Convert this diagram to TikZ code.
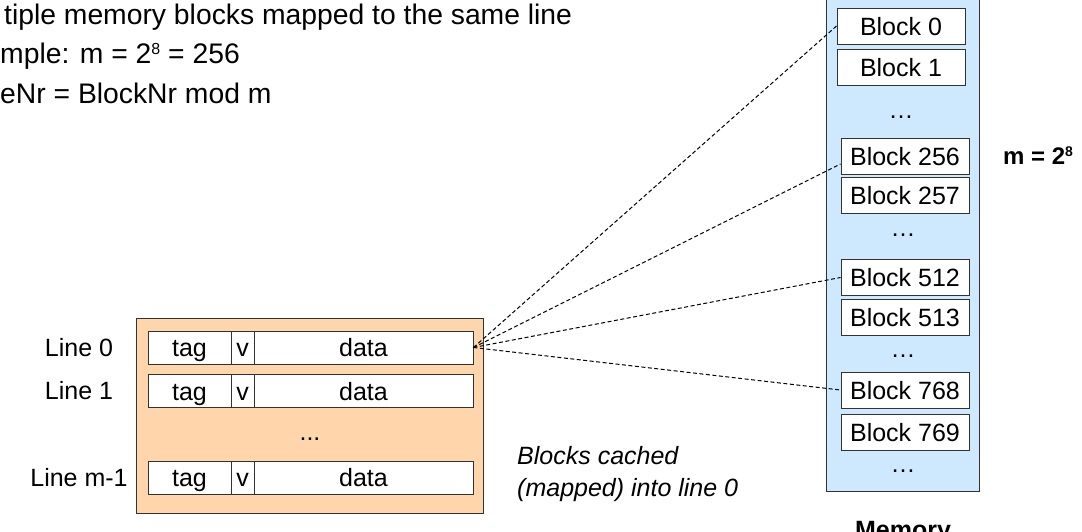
\documentclass[tikz,border=0pt]{standalone}
\usepackage{fontspec}
\setmainfont{Liberation Sans}
\definecolor{peach}{RGB}{255,214,172}
\definecolor{memblue}{RGB}{206,233,253}
\definecolor{edge}{RGB}{50,50,50}
\newcommand{\mysup}[3]{\raisebox{#2}{\fontsize{#1}{#1}\selectfont #3}}
\begin{document}
\begin{tikzpicture}[x=1pt,y=-1pt,
  txt/.style={inner sep=0pt,font=\fontsize{25}{28}\selectfont},
  toptxt/.style={inner sep=0pt,anchor=base west,font=\fontsize{28.3}{32}\selectfont},
  blockbox/.style={draw=edge,fill=white,line width=1pt,minimum width=128pt,minimum height=36pt,inner sep=0pt,text height=18pt,text depth=0pt,font=\fontsize{25}{28}\selectfont},
  cell/.style={draw=edge,fill=white,line width=0.9pt,minimum height=33pt,inner sep=0pt,text height=18pt,text depth=0pt,font=\fontsize{25}{28}\selectfont},
  link/.style={draw=black,line width=1pt,dash pattern=on 4pt off 2.5pt}]
\useasboundingbox (0,0) rectangle (1082,531);
\clip (0,0) rectangle (1082,531);
% top text
\node[toptxt] (t1) at (4,24) {tiple memory blocks mapped to the same line};
\node[toptxt] (t2) at (0,63) {mple: m = 2\mysup{16}{8.5pt}{8} = 256};
\node[toptxt] (t3) at (0,103) {eNr = BlockNr mod m};
% memory
\draw[draw=edge,fill=memblue,line width=1pt] (826,-5) rectangle (979,491);
\node[blockbox] (b0) at (901,26) {Block 0};
\node[blockbox] (b1) at (901,67.5) {Block 1};
\node[txt,anchor=base] (d1) at (901,118) {\dots};
\node[blockbox] (b256) at (905,156) {Block 256};
\node[blockbox] (b257) at (905,195) {Block 257};
\node[txt,anchor=base] (d2) at (903,236) {\dots};
\node[blockbox] (b512) at (905,277.5) {Block 512};
\node[blockbox] (b513) at (905,317) {Block 513};
\node[txt,anchor=base] (d3) at (903,357) {\dots};
\node[blockbox] (b768) at (905,390) {Block 768};
\node[blockbox] (b769) at (905,432.5) {Block 769};
\node[txt,anchor=base] (d4) at (903,472) {\dots};
\node[inner sep=0pt,anchor=base,font=\fontsize{25}{28}\selectfont\bfseries] (mem) at (903,538) {Memory};
\node[inner sep=0pt,anchor=base west,font=\fontsize{24}{28}\selectfont\bfseries] (mlab) at (1003,164) {m = 2\mysup{14}{7.5pt}{8}};
% cache
\draw[draw=edge,fill=peach,line width=1pt] (136,318) rectangle (483,513);
\foreach \r/\y in {0/347.5,1/391,m/477.5}{
  \node[cell,minimum width=83pt] (tag\r) at (189.5,\y) {tag};
  \node[cell,minimum width=23pt] (v\r) at (242.5,\y) {v};
  \node[cell,minimum width=219pt] (data\r) at (363.5,\y) {data};
}
\node[txt,anchor=base] (cd) at (310,440) {...};
\node[txt,anchor=base] (l0) at (79,356) {Line 0};
\node[txt,anchor=base] (l1) at (79,399) {Line 1};
\node[txt,anchor=base] (lm) at (79,486) {Line m-1};
\node[inner sep=0pt,anchor=base west,font=\fontsize{25}{28}\selectfont\itshape] (note1) at (517,464) {Blocks cached};
\node[inner sep=0pt,anchor=base west,font=\fontsize{25}{28}\selectfont\itshape] (note2) at (517,496) {(mapped) into line 0};
% links
\draw[link] (data0.east) -- (b0.west);
\draw[link] (data0.east) -- ([yshift=-8pt]b256.west);
\draw[link] (data0.east) -- (b512.west);
\draw[link] (data0.east) -- (b768.west);
\end{tikzpicture}
\end{document}
